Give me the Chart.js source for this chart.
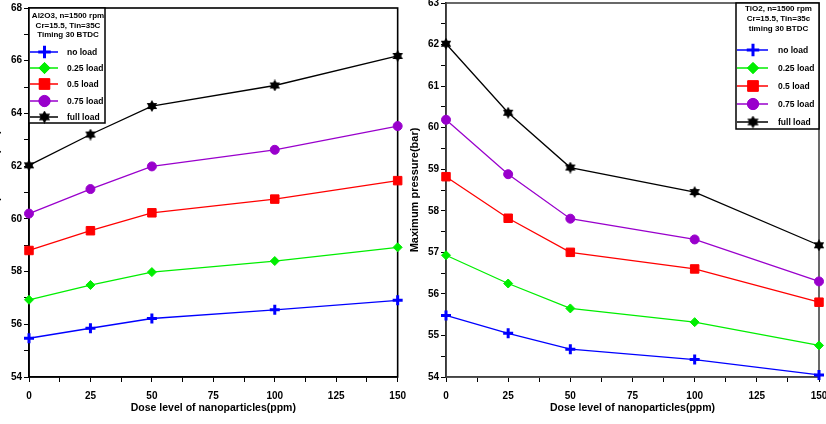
<!DOCTYPE html>
<html>
<head>
<meta charset="utf-8">
<script src="https://cdn.jsdelivr.net/npm/chart.js@4"></script>
<style>
  html, body { margin: 0; padding: 0; background: #fff; overflow: hidden; width: 826px; height: 424px; position: relative; }
  .box { position: absolute; }
  #leftBox { left: -16px; top: 0; width: 430px; height: 424px; }
  #rightBox { left: 406px; top: -5px; width: 430px; height: 429px; }
</style>
</head>
<body>
<div id="leftBox" class="box"><canvas id="alChart"></canvas></div>
<div id="rightBox" class="box"><canvas id="tiChart"></canvas></div>
<script>
// x values (ppm) and series names
const doses = [0, 25, 50, 100, 150];
const loadNames = ['no load', '0.25 load', '0.5 load', '0.75 load', 'full load'];

// Al2O3 - maximum pressure (bar)
const alNoLoad = [55.47, 55.85, 56.22, 56.55, 56.91];
const al025 = [56.93, 57.49, 57.98, 58.40, 58.92];
const al05 = [58.80, 59.55, 60.23, 60.75, 61.45];
const al075 = [60.20, 61.13, 61.99, 62.62, 63.52];
const alFull = [62.03, 63.20, 64.28, 65.06, 66.18];

// TiO2 - maximum pressure (bar)
const tiNoLoad = [55.48, 55.05, 54.67, 54.42, 54.05];
const ti025 = [56.93, 56.25, 55.65, 55.32, 54.76];
const ti05 = [58.82, 57.82, 57.00, 56.60, 55.80];
const ti075 = [60.19, 58.88, 57.81, 57.31, 56.30];
const tiFull = [62.02, 60.36, 59.04, 58.45, 57.17];

// axis ranges
const alYRange = [54, 68];
const tiYRange = [54, 63];
const doseRange = [0, 150];

const alTitle = ['Al2O3, n=1500 rpm', 'Cr=15.5, Tin=35C', 'Timing 30 BTDC'];
const tiTitle = ['TiO2, n=1500 rpm', 'Cr=15.5, Tin=35c', 'timing 30 BTDC'];

const FONT = '"Liberation Sans", Arial, sans-serif';

// six pointed filled star for "full load"
function makeStar(size) {
  const c = document.createElement('canvas');
  c.width = size; c.height = size;
  const g = c.getContext('2d');
  const r = size / 2;
  g.fillStyle = '#000';
  for (let k = 0; k < 2; k++) {
    g.beginPath();
    for (let i = 0; i < 3; i++) {
      const a = -Math.PI / 2 + k * Math.PI + i * 2 * Math.PI / 3;
      const px = r + r * Math.cos(a), py = r + r * Math.sin(a);
      if (i) g.lineTo(px, py); else g.moveTo(px, py);
    }
    g.closePath();
    g.fill();
  }
  return c;
}
const starSmall = makeStar(12);
const starBig = makeStar(13);

const looks = [
  { color: '#0000ff', style: 'cross', r: 5, bw: 3 },
  { color: '#00ee00', style: 'rectRot', r: 4.5, bw: 1 },
  { color: '#ff0000', style: 'rect', r: 6, bw: 1 },
  { color: '#9900cc', style: 'circle', r: 4.5, bw: 1 },
  { color: '#000000', style: starSmall, r: 6, bw: 1 }
];

function makeDatasets(seriesList) {
  return seriesList.map((vals, i) => ({
    label: loadNames[i],
    data: doses.map((d, j) => ({ x: d, y: vals[j] })),
    borderColor: looks[i].color,
    backgroundColor: looks[i].color,
    pointBorderColor: looks[i].color,
    pointBackgroundColor: looks[i].color,
    pointStyle: looks[i].style,
    pointRadius: looks[i].r,
    pointBorderWidth: looks[i].bw,
    borderWidth: 1.3,
    tension: 0,
    clip: false
  }));
}

const isMultiple = (v, step) => Math.abs(v / step - Math.round(v / step)) < 1e-6;

// frame round the plot + boxed legend
const framePlugin = {
  id: 'frameBox',
  beforeDatasetsDraw(chart, args, opts) {
    const { ctx, chartArea: a } = chart;
    ctx.save();
    ctx.strokeStyle = opts.frameColor;
    ctx.lineWidth = opts.frameWidth;
    ctx.strokeRect(a.left, a.top, a.right - a.left, a.bottom - a.top);
    ctx.restore();
  },
  afterDraw(chart, args, opts) {
    const { ctx, chartArea: a } = chart;
    const L = opts.legend;
    const bx = L.alignRight ? a.right - L.w : a.left;
    const by = a.top;
    ctx.save();
    ctx.fillStyle = '#fff';
    ctx.fillRect(bx, by, L.w, L.h);
    ctx.strokeStyle = '#000';
    ctx.lineWidth = 1.5;
    ctx.strokeRect(bx, by, L.w, L.h);

    ctx.fillStyle = '#000';
    ctx.textAlign = 'center';
    ctx.textBaseline = 'middle';
    ctx.font = 'bold 8px ' + FONT;
    L.title.forEach((t, i) => ctx.fillText(t, bx + L.w / 2 + 1, by + L.titleY[i]));

    ctx.font = 'bold 8.5px ' + FONT;
    ctx.textAlign = 'left';
    chart.data.datasets.forEach((ds, i) => {
      const y = by + L.rowY[i];
      ctx.strokeStyle = ds.borderColor;
      ctx.lineWidth = 1.5;
      ctx.beginPath();
      ctx.moveTo(bx + 1, y);
      ctx.lineTo(bx + L.lineW, y);
      ctx.stroke();
      const mx = bx + L.lineW / 2 + 1;
      if (i === 4) {
        ctx.drawImage(starBig, mx - 6.5, y - 6.5);
      } else {
        ctx.fillStyle = ds.pointBackgroundColor;
        ctx.strokeStyle = ds.pointBorderColor;
        ctx.lineWidth = looks[i].bw;
        Chart.helpers.drawPoint(ctx, { pointStyle: looks[i].style, radius: looks[i].r * 1.25, borderWidth: looks[i].bw, rotation: 0 }, mx, y);
        if (looks[i].style !== 'cross') ctx.fill();
      }
      ctx.fillStyle = '#000';
      ctx.fillText(ds.label, bx + L.textX, y + 0.5);
    });
    ctx.restore();
  }
};

function makeOptions(yRange, yMajor, yWidth, yTitlePad, padding, frameColor, legend) {
  return {
    responsive: true,
    maintainAspectRatio: false,
    animation: false,
    layout: { padding: padding },
    plugins: {
      legend: { display: false },
      tooltip: { enabled: false },
      frameBox: { frameColor: frameColor, frameWidth: 1.6, legend: legend }
    },
    scales: {
      x: {
        type: 'linear',
        min: doseRange[0],
        max: doseRange[1],
        afterFit(s) { s.height = 47; },
        border: { color: frameColor, width: 1.6 },
        grid: { drawOnChartArea: false, drawTicks: true, tickLength: 5, color: '#000' },
        ticks: {
          stepSize: 12.5,
          autoSkip: false,
          maxRotation: 0,
          padding: 8,
          color: '#000',
          font: { family: FONT, size: 10, weight: 'bold' },
          callback: v => (isMultiple(v, 25) ? v : '')
        },
        title: {
          display: true,
          text: 'Dose level of nanoparticles(ppm)',
          color: '#000',
          font: { family: FONT, size: 10.5, weight: 'bold' },
          padding: { top: 0, bottom: 9.5 }
        }
      },
      y: {
        min: yRange[0],
        max: yRange[1],
        afterFit(s) { s.width = yWidth; },
        border: { color: '#000', width: 1.6 },
        grid: { drawOnChartArea: false, drawTicks: true, tickLength: 5, color: '#000' },
        ticks: {
          stepSize: yMajor / 2,
          autoSkip: false,
          padding: 2,
          color: '#000',
          font: { family: FONT, size: 10, weight: 'bold' },
          callback: v => (isMultiple(v, yMajor) ? v : '')
        },
        title: {
          display: true,
          text: 'Maximum pressure(bar)',
          color: '#000',
          font: { family: FONT, size: 11, weight: 'bold' },
          padding: { top: yTitlePad, bottom: 0 }
        }
      }
    }
  };
}

new Chart(document.getElementById('alChart'), {
  type: 'line',
  data: { datasets: makeDatasets([alNoLoad, al025, al05, al075, alFull]) },
  options: makeOptions(alYRange, 2, 45, 5, { top: 7, right: 16, bottom: 0, left: 0 }, '#000', {
    alignRight: false, w: 76, h: 115, title: alTitle,
    titleY: [8, 18, 26.5], rowY: [44, 60, 76, 93, 109], lineW: 29, textX: 38
  }),
  plugins: [framePlugin]
});

new Chart(document.getElementById('tiChart'), {
  type: 'line',
  data: { datasets: makeDatasets([tiNoLoad, ti025, ti05, ti075, tiFull]) },
  options: makeOptions(tiYRange, 1, 40, 2.5, { top: 7, right: 17, bottom: 0, left: 0 }, '#444', {
    alignRight: true, w: 83, h: 126, title: tiTitle,
    titleY: [5.5, 15.5, 26], rowY: [47, 65, 83, 101, 119], lineW: 32, textX: 42
  }),
  plugins: [framePlugin]
});
</script>
</body>
</html>
